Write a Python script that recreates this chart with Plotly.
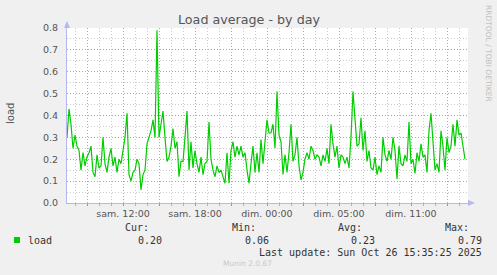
import plotly.graph_objects as go

# ---- data (load average, one reading every 10 minutes) ----
load_values = [
    0.30, 0.43, 0.36, 0.25, 0.31, 0.26, 0.24, 0.15, 0.23, 0.17,
    0.21, 0.23, 0.26, 0.14, 0.12, 0.22, 0.16, 0.17, 0.30, 0.18,
    0.14, 0.21, 0.25, 0.17, 0.21, 0.14, 0.20, 0.18, 0.24, 0.30,
    0.41, 0.13, 0.10, 0.14, 0.15, 0.20, 0.18, 0.06, 0.13, 0.15,
    0.27, 0.30, 0.33, 0.38, 0.30, 0.79, 0.30, 0.36, 0.42, 0.30,
    0.19, 0.21, 0.26, 0.34, 0.25, 0.28, 0.12, 0.19, 0.19, 0.30,
    0.42, 0.15, 0.28, 0.16, 0.24, 0.18, 0.14, 0.21, 0.13, 0.18,
    0.19, 0.37, 0.20, 0.15, 0.12, 0.17, 0.14, 0.15, 0.12, 0.09,
    0.23, 0.09, 0.24, 0.28, 0.21, 0.26, 0.22, 0.26, 0.21, 0.23,
    0.15, 0.09, 0.18, 0.26, 0.14, 0.23, 0.14, 0.29, 0.18, 0.27,
    0.38, 0.32, 0.32, 0.36, 0.25, 0.51, 0.31, 0.28, 0.13, 0.22,
    0.14, 0.23, 0.36, 0.19, 0.22, 0.30, 0.17, 0.105, 0.14, 0.20,
    0.23, 0.20, 0.26, 0.24, 0.20, 0.22, 0.21, 0.17, 0.22, 0.19,
    0.25, 0.18, 0.36, 0.27, 0.21, 0.26, 0.16, 0.22, 0.21, 0.18,
    0.21, 0.16, 0.30, 0.51, 0.38, 0.26, 0.27, 0.39, 0.24, 0.33,
    0.19, 0.24, 0.16, 0.15, 0.21, 0.13, 0.17, 0.14, 0.30, 0.22,
    0.19, 0.24, 0.20, 0.30, 0.24, 0.11, 0.26, 0.18, 0.17, 0.22,
    0.19, 0.37, 0.18, 0.20, 0.135, 0.23, 0.19, 0.27, 0.21, 0.22,
    0.14, 0.33, 0.41, 0.26, 0.15, 0.18, 0.14, 0.33, 0.26, 0.15,
    0.30, 0.23, 0.26, 0.36, 0.26, 0.38, 0.31, 0.32, 0.26, 0.20,
]
# hours relative to "sam. 12:00"
start_hour = -4.667
step_hours = 1.0 / 6.0
hours = [start_hour + i * step_hours for i in range(len(load_values))]

x_tick_hours = [-3, 0, 3, 6, 9, 12, 15, 18, 21, 24, 27]
x_tick_labels = ["", "sam. 12:00", "", "sam. 18:00", "", "dim. 00:00", "",
                 "dim. 05:00", "", "dim. 11:00", ""]
y_tick_vals = [0.0, 0.1, 0.2, 0.3, 0.4, 0.5, 0.6, 0.7, 0.8]
y_tick_labels = ["0.0", "0.1", "0.2", "0.3", "0.4", "0.5", "0.6", "0.7", "0.8"]

series_name = "load"
stat_names = ["Cur:", "Min:", "Avg:", "Max:"]
stat_values = ["0.20", "0.06", "0.23", "0.79"]
last_update = "Last update: Sun Oct 26 15:35:25 2025"
title_text = "Load average - by day"

# ---- geometry helpers (pixel -> paper) ----
W, H = 497, 275
L, R, T, B = 67, 29, 28, 72
PW, PH = W - L - R, H - T - B


def px(x):
    return (x - L) / PW


def py(y):
    return (H - B - y) / PH


fig = go.Figure()
fig.add_trace(go.Scatter(
    x=hours, y=load_values, mode="lines",
    line=dict(color="#00cc00", width=1.2),
    hoverinfo="skip", showlegend=False,
))

axis_col = "#b4b8ee"
major_col = "rgba(230,110,110,0.6)"
minor_col = "rgba(160,160,160,0.55)"
sans = "DejaVu Sans"
mono = "DejaVu Sans Mono"

fig.update_layout(
    width=W, height=H,
    margin=dict(l=L, r=R, t=T, b=B, pad=0),
    paper_bgcolor="#f0f0f0",
    plot_bgcolor="#ffffff",
    font=dict(family=sans, color="#555555"),
    xaxis=dict(
        range=[-4.667, 28.75],
        tickmode="array", tickvals=x_tick_hours, ticktext=x_tick_labels,
        showgrid=True, gridcolor=major_col, griddash="1px,2px", gridwidth=1,
        minor=dict(dtick=1, tick0=0, showgrid=True, gridcolor=minor_col,
                   griddash="1px,2px", ticks="outside", ticklen=2,
                   tickcolor="#b0b0b0"),
        ticks="outside", ticklen=2, tickcolor="#e07070",
        showline=True, linecolor=axis_col, linewidth=1,
        zeroline=False,
        tickfont=dict(family=sans, size=9.5, color="#555555"),
        fixedrange=True,
    ),
    yaxis=dict(
        range=[0, 0.8],
        tickmode="array", tickvals=y_tick_vals, ticktext=y_tick_labels,
        showgrid=True, gridcolor=major_col, griddash="1px,2px", gridwidth=1,
        minor=dict(dtick=0.05, tick0=0, showgrid=True, gridcolor=minor_col,
                   griddash="1px,2px"),
        ticks="", ticklabelstandoff=6,
        showline=True, linecolor=axis_col, linewidth=1,
        zeroline=False,
        tickfont=dict(family=sans, size=9.5, color="#555555"),
        fixedrange=True,
    ),
)

# axis arrows
fig.add_shape(type="path", xref="paper", yref="paper",
              path=f"M {px(64)} {py(28)} L {px(70)} {py(28)} L {px(67)} {py(21)} Z",
              fillcolor=axis_col, line=dict(width=0))
fig.add_shape(type="path", xref="paper", yref="paper",
              path=f"M {px(468)} {py(200)} L {px(468)} {py(206)} L {px(475)} {py(203)} Z",
              fillcolor=axis_col, line=dict(width=0))

ann = []
ann.append(dict(text=title_text, x=px(248.5), y=py(19), xanchor="center", yanchor="middle",
                font=dict(family=sans, size=12.7, color="#555555")))
ann.append(dict(text=series_name, x=px(10), y=py(114), textangle=-90,
                xanchor="center", yanchor="middle",
                font=dict(family=sans, size=10, color="#555555")))
ann.append(dict(text="RRDTOOL / TOBI OETIKER", x=px(489), y=py(53), textangle=90,
                xanchor="center", yanchor="middle",
                font=dict(family=sans, size=7.5, color="#c0c0c0")))
# legend
ann.append(dict(text=series_name, x=px(26), y=py(240), xanchor="left", yanchor="middle",
                font=dict(family=mono, size=10, color="#333333")))
head_right = [151, 258, 364, 471]
val_right = [164, 271, 377, 484]
for name, val, hx, vx in zip(stat_names, stat_values, head_right, val_right):
    ann.append(dict(text=name, x=px(hx), y=py(227), xanchor="right", yanchor="middle",
                    font=dict(family=mono, size=10, color="#333333")))
    ann.append(dict(text=val, x=px(vx), y=py(240), xanchor="right", yanchor="middle",
                    font=dict(family=mono, size=10, color="#333333")))
ann.append(dict(text=last_update, x=px(484), y=py(252), xanchor="right", yanchor="middle",
                font=dict(family=mono, size=10, color="#333333")))
ann.append(dict(text="Munin 2.0.67", x=px(247.5), y=py(263), xanchor="center", yanchor="middle",
                font=dict(family=sans, size=7.5, color="#c8c8c8")))
for a in ann:
    a.update(xref="paper", yref="paper", showarrow=False)
fig.update_layout(annotations=ann)

# legend colour box
fig.add_shape(type="rect", xref="paper", yref="paper",
              x0=px(14), x1=px(20), y0=py(243), y1=py(237),
              fillcolor="#00cc00", line=dict(width=0))

fig.write_html("out.html")
